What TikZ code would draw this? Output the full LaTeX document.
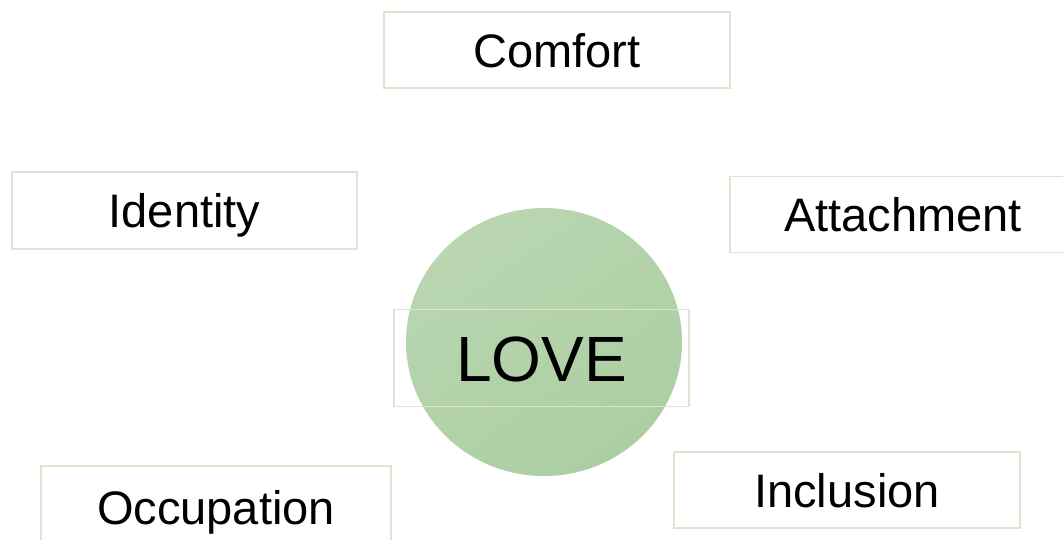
\documentclass[tikz,border=0pt]{standalone}
\usepackage{fontspec}
\setmainfont{Liberation Sans}
\usetikzlibrary{shapes.geometric}
\definecolor{boxline}{HTML}{E4E1CE}
\definecolor{gA}{HTML}{B9D6B1}
\definecolor{gB}{HTML}{ACCEA2}
\tikzset{
  lbl/.style={draw=boxline, line width=1.5pt, fill=none, minimum width=346pt, minimum height=76pt,
    inner sep=0pt, text height=34pt, text depth=0pt, font=\fontsize{47}{56}\selectfont},
  heart/.style={ellipse, draw=none, minimum width=276pt, minimum height=268pt, inner sep=0pt,
    top color=gA, bottom color=gB, shading angle=35}
}
\begin{document}
\begin{tikzpicture}[x=1pt,y=-1pt]
\useasboundingbox (0,0) rectangle (1063,539);
\node[heart] (circ) at (544,342) {};
\node[lbl, minimum width=295pt, minimum height=97pt, text height=46pt, font=\fontsize{64}{72}\selectfont] (love) at (541.5,358) {LOVE};
\node[lbl] (comfort) at (557,50) {Comfort};
\node[lbl, minimum width=345pt, minimum height=77pt] (identity) at (184.5,210.5) {Identity};
\node[lbl] (attach) at (903,214.5) {Attachment};
\node[lbl] (incl) at (847,490) {Inclusion};
\node[lbl, minimum width=350pt, minimum height=82pt] (occ) at (216,507) {Occupation};
\end{tikzpicture}
\end{document}
